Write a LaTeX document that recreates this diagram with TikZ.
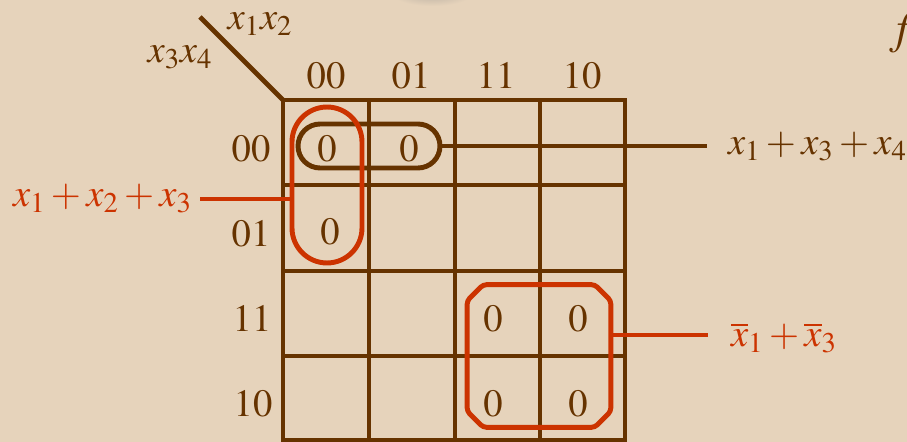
\documentclass[tikz,border=0pt]{standalone}
\usepackage{mathptmx}
\definecolor{marrone}{HTML}{663300}
\definecolor{rosso}{HTML}{CC3300}
\definecolor{sfondo}{HTML}{E6D3BB}

\begin{document}
\begin{tikzpicture}[x=0.02cm, y=-0.02cm,
    font=\fontsize{22}{26}\selectfont,
    linea/.style={line width=2.8pt},
    cifra/.style={marrone, inner sep=0pt, anchor=base},
    ]
    % Sfondo
    \useasboundingbox (0,0) rectangle (907,442);
    \clip (0,0) rectangle (907,442);
    \fill[sfondo] (0,0) rectangle (907,442);
    \shade[inner color=gray!45!sfondo, outer color=sfondo] (432,-8) ellipse (42 and 14);

    % Griglia della mappa
    \draw[marrone, linea] (283,100) rectangle (625,440);
    \draw[marrone, linea] (369,100) -- (369,440) (455,100) -- (455,440) (540,100) -- (540,440);
    \draw[marrone, linea] (283,185) -- (625,185) (283,271) -- (625,271) (283,356) -- (625,356);
    \draw[marrone, linea] (200,17) -- (283,100);

    % Variabili
    \node[cifra] (x12) at (260,30) {$x_1x_2$};
    \node[cifra] (x34) at (180,63) {$x_3x_4$};
    \node[cifra, anchor=base west, font=\fontsize{26}{30}\selectfont] (f) at (889,44) {$f$};

    % Intestazioni colonne
    \node[cifra] (c00) at (326,89) {$00$};
    \node[cifra] (c01) at (411,89) {$01$};
    \node[cifra] (c11) at (496,89) {$11$};
    \node[cifra] (c10) at (582,89) {$10$};

    % Intestazioni righe
    \node[cifra] (r00) at (251,162) {$00$};
    \node[cifra] (r01) at (251,247) {$01$};
    \node[cifra] (r11) at (252,332) {$11$};
    \node[cifra] (r10) at (253,417) {$10$};

    % Zeri della funzione
    \node[cifra] (z1) at (327,162) {$0$};
    \node[cifra] (z2) at (409,162) {$0$};
    \node[cifra] (z3) at (330,245) {$0$};
    \node[cifra] (z4) at (493,332) {$0$};
    \node[cifra] (z5) at (578,332) {$0$};
    \node[cifra] (z6) at (493,417) {$0$};
    \node[cifra] (z7) at (578,417) {$0$};

    % Raggruppamento x1 + x3 + x4
    \node[draw=marrone, linea, rounded corners=0.44cm, minimum width=2.84cm,
          minimum height=0.88cm, inner sep=0pt] (ansaA) at (369,146) {};
    \coordinate (fineA) at (707,146);
    \draw[marrone, linea] (ansaA.east) -- (fineA);
    \node[marrone, anchor=base west] (espA) at (722,155) {$x_1 + x_3 + x_4$};

    % Raggruppamento x1 + x2 + x3
    \node[draw=rosso, linea, rounded corners=0.7cm, minimum width=1.4cm,
          minimum height=3.12cm, inner sep=0pt] (ansaB) at (327,185) {};
    \coordinate (fineB) at (200,199);
    \draw[rosso, linea] (fineB) -- (fineB -| ansaB.west);
    \node[rosso, anchor=base east] (espB) at (198,207) {$x_1 + x_2 + x_3$};

    % Raggruppamento x1' + x3' (angoli smussati)
    \node[minimum width=2.86cm, minimum height=2.84cm, inner sep=0pt] (ansaC) at (539,356) {};
    \draw[rosso, linea, rounded corners=2pt]
        ([xshift=0.32cm]ansaC.north west) -- ([xshift=-0.32cm]ansaC.north east)
        -- ([yshift=-0.32cm]ansaC.north east) -- ([yshift=0.32cm]ansaC.south east)
        -- ([xshift=-0.32cm]ansaC.south east) -- ([xshift=0.32cm]ansaC.south west)
        -- ([yshift=0.32cm]ansaC.south west) -- ([yshift=-0.32cm]ansaC.north west)
        -- cycle;
    \coordinate (fineC) at (708,335);
    \draw[rosso, linea] (fineC -| ansaC.east) -- (fineC);
    \node[rosso, anchor=base west] (espC) at (725,347) {$\overline{x}_1 + \overline{x}_3$};
\end{tikzpicture}
\end{document}
